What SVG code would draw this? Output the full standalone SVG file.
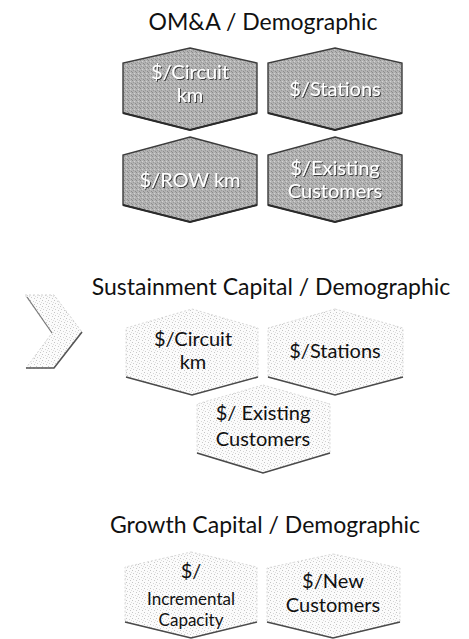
<svg xmlns="http://www.w3.org/2000/svg" width="469" height="639" viewBox="0 0 469 639">
  <defs>
    <pattern id="darkTex" width="4" height="4" patternUnits="userSpaceOnUse">
      <rect width="4" height="4" fill="#b3b3b3"/>
      <rect x="0" y="0" width="1" height="1" fill="#8c8c8c"/>
      <rect x="2" y="1" width="1" height="1" fill="#d2d2d2"/>
      <rect x="1" y="2" width="1" height="1" fill="#999"/>
      <rect x="3" y="3" width="1" height="1" fill="#8c8c8c"/>
    </pattern>
    <pattern id="lightTex" width="6" height="6" patternUnits="userSpaceOnUse">
      <rect width="6" height="6" fill="#fbfbfb"/>
      <rect x="0" y="0" width="1" height="1" fill="#c4c4c4"/>
      <rect x="3" y="1" width="1" height="1" fill="#d6d6d6"/>
      <rect x="1" y="3" width="1" height="1" fill="#cfcfcf"/>
      <rect x="4" y="4" width="1" height="1" fill="#c8c8c8"/>
      <rect x="5" y="2" width="1" height="1" fill="#dedede"/>
    </pattern>
    <filter id="emboss" x="-10%" y="-20%" width="130%" height="150%">
      <feDropShadow dx="1" dy="1" stdDeviation="0.6" flood-color="#333" flood-opacity="0.9"/>
    </filter>
  </defs>
  <style>
    .title { font-family: Lato, "Open Sans", sans-serif; font-size: 23px; fill: #111; text-anchor: middle; }
    .dark polygon { fill: url(#darkTex); stroke: #3c3c3c; stroke-width: 1.4; }
    .dark polyline { fill: none; stroke: #2a2a2a; stroke-width: 2; }
    .dark text { font-family: Lato, "Open Sans", sans-serif; font-size: 20px; fill: #fff; text-anchor: middle; filter: url(#emboss); }
    .light polygon { fill: url(#lightTex); stroke: #d8d8d8; stroke-width: 1; stroke-dasharray: 2 2; }
    .light polyline { fill: none; stroke: #4a4a4a; stroke-width: 1.6; }
    .light text { font-family: Lato, "Open Sans", sans-serif; font-size: 20px; fill: #111; text-anchor: middle; }
    .light text.small { font-size: 17px; }
  </style>

  <rect width="469" height="639" fill="#fff"/>

  <!-- Titles -->
  <text id="title-oma" class="title" x="263" y="30">OM&amp;A / Demographic</text>
  <text id="title-sust" class="title" x="271" y="295">Sustainment Capital / Demographic</text>
  <text id="title-growth" class="title" x="265" y="533">Growth Capital / Demographic</text>

  <!-- OM&A nodes -->
  <g id="oma-circuit" class="dark">
    <polygon points="190,48 257,63 257,113 190,130 123,113 123,63"/>
    <polyline points="123,113 190,130 257,113"/>
    <text x="190" y="79">$/Circuit</text>
    <text x="190" y="102">km</text>
  </g>
  <g id="oma-stations" class="dark">
    <polygon points="335,48 402,63 402,113 335,130 268,113 268,63"/>
    <polyline points="268,113 335,130 402,113"/>
    <text x="335" y="96">$/Stations</text>
  </g>
  <g id="oma-row" class="dark">
    <polygon points="190,137 257,155 257,205 190,222 123,205 123,155"/>
    <polyline points="123,205 190,222 257,205"/>
    <text x="190" y="187">$/ROW km</text>
  </g>
  <g id="oma-existing" class="dark">
    <polygon points="335,137 402,155 402,205 335,222 268,205 268,155"/>
    <polyline points="268,205 335,222 402,205"/>
    <text x="335" y="175">$/Existing</text>
    <text x="335" y="198">Customers</text>
  </g>

  <!-- Chevron -->
  <g id="chevron">
    <polygon points="25,295 54,295 82,332 54,368 26,368 52,333" fill="url(#lightTex)" stroke="#d0d0d0" stroke-width="1" stroke-dasharray="2 2"/>
    <polyline points="27,297 52,333" fill="none" stroke="#777" stroke-width="1.2"/>
    <polyline points="26,368 54,368 82,332" fill="none" stroke="#555" stroke-width="1.6"/>
  </g>

  <!-- Sustainment nodes -->
  <g id="sust-existing" class="light">
    <polygon points="263,385 330,404 330,453 263,473 197,453 197,404"/>
    <polyline points="197,453 263,473 330,453"/>
    <text x="263" y="420">$/ Existing</text>
    <text x="263" y="446">Customers</text>
  </g>
  <g id="sust-circuit" class="light">
    <polygon points="192,309 258,328 258,377 192,395 126,377 126,328"/>
    <polyline points="126,377 192,395 258,377"/>
    <text x="193" y="346">$/Circuit</text>
    <text x="193" y="369">km</text>
  </g>
  <g id="sust-stations" class="light">
    <polygon points="335,309 403,328 403,377 335,395 268,377 268,328"/>
    <polyline points="268,377 335,395 403,377"/>
    <text x="335" y="358">$/Stations</text>
  </g>

  <!-- Growth nodes -->
  <g id="growth-incremental" class="light">
    <polygon points="191,552 257,567 257,622 191,638 125,622 125,567"/>
    <polyline points="125,622 191,638 257,622"/>
    <text x="191" y="578">$/</text>
    <text class="small" x="191" y="605">Incremental</text>
    <text class="small" x="191" y="626">Capacity</text>
  </g>
  <g id="growth-new" class="light">
    <polygon points="333,554 400,568 400,622 333,638 267,622 267,568"/>
    <polyline points="267,622 333,638 400,622"/>
    <text x="333" y="588">$/New</text>
    <text x="333" y="612">Customers</text>
  </g>
</svg>
